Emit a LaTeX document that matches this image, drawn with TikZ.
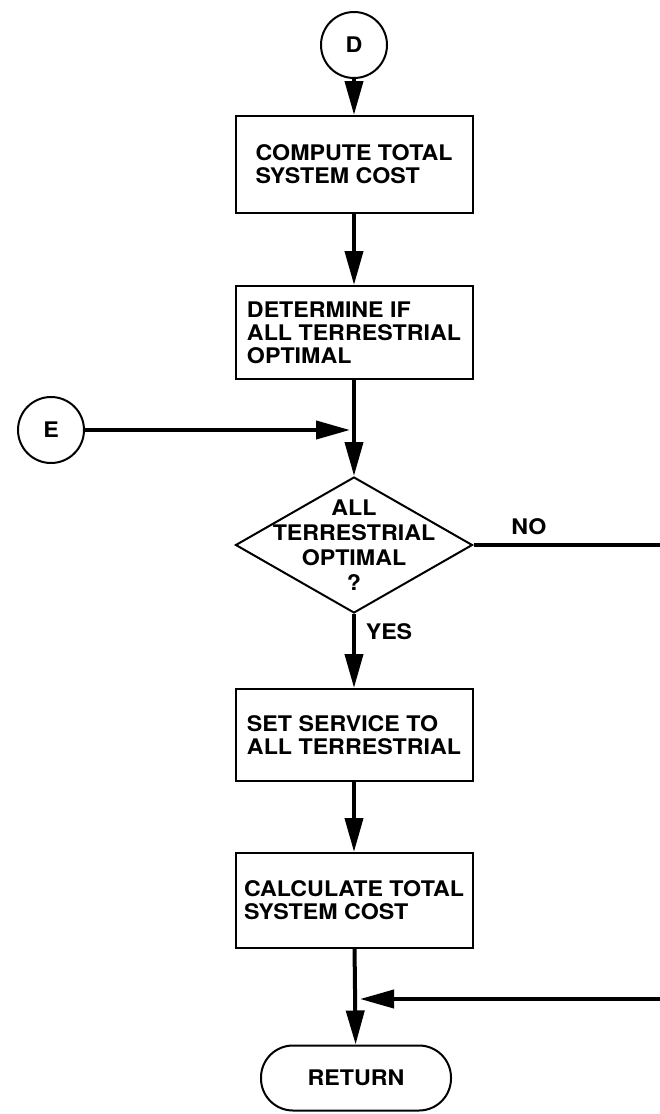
\documentclass[tikz,border=0pt]{standalone}
\usepackage{fontspec}
\setmainfont{TeX Gyre Heros}[FakeStretch=1.08]
\usetikzlibrary{shapes.geometric,arrows.meta}
\begin{document}
\begin{tikzpicture}[x=1pt,y=-1pt,
  font=\bfseries\fontsize{21.5}{23}\selectfont,
  stepbox/.style={draw, line width=2pt, minimum width=237pt, align=left, inner sep=0pt},
  joint/.style={draw, circle, line width=2pt, minimum size=66pt, inner sep=0pt},
  decision/.style={draw, diamond, line width=2pt, minimum width=237pt, minimum height=136pt, inner sep=0pt},
  terminal/.style={draw, rounded corners=32pt, line width=2pt, minimum width=190pt, minimum height=65pt},
  link/.style={line width=4pt},
  flow/.style={link, -{Triangle[length=34pt,width=18pt]}},
  tag/.style={inner sep=0pt}
]
\useasboundingbox (0,0) rectangle (660,1114);

% connectors and process boxes
\node[joint] (D) at (354,45) {D};
\node[stepbox, minimum height=97pt] (cost1) at (354,164.5) {COMPUTE TOTAL\\SYSTEM COST};
\node[stepbox, minimum height=93pt] (check) at (354,332.5) {DETERMINE IF\\ALL TERRESTRIAL\\OPTIMAL};
\node[joint] (E) at (51,430) {E};
\coordinate (merge) at (354,430);
\node[decision, label={[align=center, font=\bfseries\fontsize{21.5}{25}\selectfont]center:ALL\\TERRESTRIAL\\OPTIMAL\\?}] (dec) at (354,545) {};
\node[stepbox, minimum height=92pt] (set) at (354,735) {SET SERVICE TO\\ALL TERRESTRIAL};
\node[stepbox, minimum height=95pt] (cost2) at (354,900.5) {CALCULATE TOTAL\\SYSTEM COST};
\node[terminal] (ret) at (356,1078) {RETURN};

\coordinate (noexit) at (660,545);
\coordinate (noentry) at (660,999);
\coordinate (join) at (354,999);

% flow lines
\draw[flow] (D) -- (cost1);
\draw[flow] (cost1) -- (check);
\draw[flow] (check) -- (dec);
\draw[flow, shorten >=4pt] (E) -- (merge);
\draw[link] (dec.east) -- (noexit);
\draw[flow] (dec) -- (set);
\draw[flow] (set) -- (cost2);
\draw[flow] (cost2) -- (ret);
\draw[flow, shorten >=6pt] (noentry) -- (join);

% branch labels
\node[tag] (no) at (529,527) {NO};
\node[tag] (yes) at (389,632) {YES};
\end{tikzpicture}
\end{document}
